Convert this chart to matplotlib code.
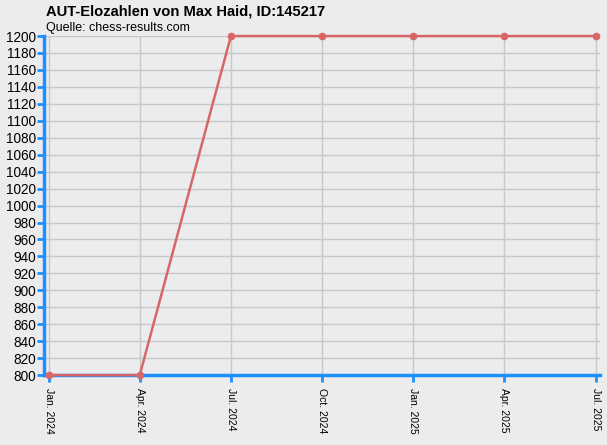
import matplotlib
matplotlib.use("Agg")
import matplotlib.pyplot as plt

plt.rcParams["font.family"] = ["Liberation Sans", "DejaVu Sans"]

# values
dates = ["Jan. 2024", "Apr. 2024", "Jul. 2024", "Oct. 2024", "Jan. 2025", "Apr. 2025", "Jul. 2025"]
elo = [800, 800, 1200, 1200, 1200, 1200, 1200]
y_ticks = list(range(800, 1201, 20))

bg = "#ececec"
blue = "#1e8fff"
red = "#d96666"

fig = plt.figure(figsize=(6.07, 4.45), dpi=100, facecolor=bg)
ax = fig.add_axes([0.0725, 0.157, 0.9155, 0.762], facecolor=bg)

x_pos = [i for i, _ in enumerate(dates)]
ax.plot(x_pos, elo, color=red, linewidth=1.8, marker="o", markersize=4.5, zorder=3, clip_on=False)

ax.set_xlim(-0.05, 6.045)
ax.set_ylim(800, 1200)
ax.set_yticks(y_ticks)
ax.set_xticks(x_pos)
ax.set_xticklabels(dates, rotation=270, fontsize=7.5)
ax.tick_params(axis="y", labelsize=9.8, color=blue, length=5, width=2, pad=1)
ax.tick_params(axis="x", color=blue, length=5, width=2, pad=4)

ax.grid(True, color="#c8c8c8", linewidth=1)
ax.set_axisbelow(True)
for s in ["top", "right"]:
    ax.spines[s].set_visible(False)
for s in ["left", "bottom"]:
    ax.spines[s].set_color(blue)
    ax.spines[s].set_linewidth(2.5)
    ax.spines[s].set_zorder(2)

fig.text(0.0758, 0.975, "AUT-Elozahlen von Max Haid, ID:145217", fontsize=10.6,
         fontweight="bold", va="center", ha="left")
fig.text(0.0758, 0.938, "Quelle: chess-results.com", fontsize=9, va="center", ha="left")

fig.savefig("out.png", dpi=100, facecolor=bg)
